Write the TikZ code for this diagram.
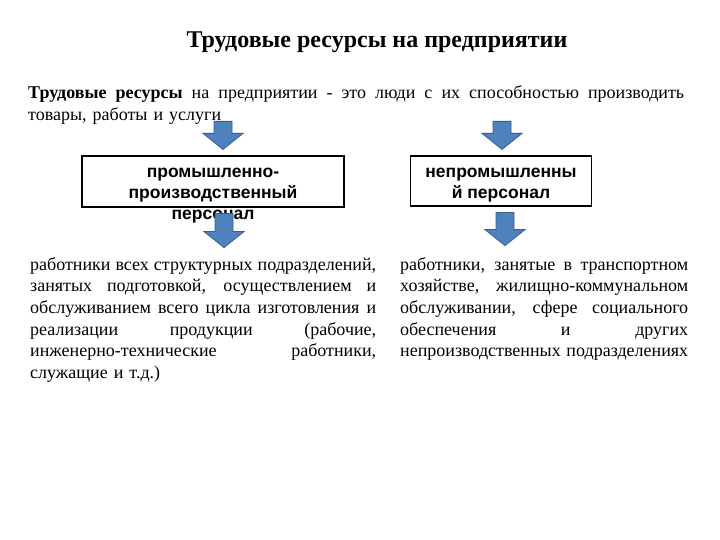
\documentclass[tikz,border=0pt]{standalone}
\usepackage{fontspec}
\setmainfont{Liberation Serif}
\newfontfamily\boxfont{Liberation Sans}
\usetikzlibrary{calc,positioning}
\definecolor{arrowblue}{HTML}{4F81BD}
\definecolor{arrowedge}{HTML}{3A5F8B}
\tikzset{
  boxstyle/.style={draw=black,line width=1.2pt,inner sep=0pt},
  boxtext/.style={font=\boxfont\bfseries\fontsize{17.5}{21}\selectfont,
                  align=center,inner sep=0pt},
  bodytext/.style={font=\fontsize{18}{21.7}\selectfont,text width=#1,
                   inner sep=0pt,align=left},
  blockarrow/.style={fill=arrowblue,draw=arrowedge,line width=.8pt},
  pics/downarrow/.style={code={
    \draw[blockarrow] (-9,0) -- (9,0) -- (9,#1-16) -- (20,#1-16) --
      (0,#1) -- (-20,#1-16) -- (-9,#1-16) -- cycle;}}
}
% one justified line of a paragraph
\newcommand\jline[1]{\leavevmode\hbox to\hsize{\spaceskip=.25em plus 1fil minus .1em\relax #1}}

\begin{document}
\begin{tikzpicture}[x=1pt,y=-1pt]
\fill[white] (0,0) rectangle (720,540);
\useasboundingbox (0,0) rectangle (720,540);

\node[font=\bfseries\fontsize{24}{28}\selectfont,anchor=base] (title)
  at (377,48) {Трудовые ресурсы на предприятии};

\node[bodytext=656pt,anchor=base west] (intro) at (28,99)
  {\jline{\textbf{Трудовые ресурсы} на предприятии - это люди с их способностью производить}\\
   товары, работы и услуги};

% two kinds of staff
\node[boxstyle,minimum width=262pt,minimum height=51pt] (prombox) at (213,181.5) {};
\node[boxstyle,minimum width=181pt,minimum height=50pt] (nonbox) at (501,181) {};
\node[boxtext] (promtext) at (213,196) {промышленно-\\производственный\\персонал};
\node[boxtext] (nontext) at (501,185) {непромышленны\\й персонал};

\node[bodytext=346pt,anchor=base west] (promdesc) at (30,270)
  {\jline{работники всех структурных подразделений,}\\
   \jline{занятых подготовкой, осуществлением и}\\
   \jline{обслуживанием всего цикла изготовления и}\\
   \jline{реализации продукции (рабочие,}\\
   \jline{инженерно-технические работники,}\\
   служащие и т.д.)};
\node[bodytext=288pt,anchor=base west] (nondesc) at (400,270)
  {\jline{работники, занятые в транспортном}\\
   \jline{хозяйстве, жилищно-коммунальном}\\
   \jline{обслуживании, сфере социального}\\
   \jline{обеспечения и других}\\
   \jline{непроизводственных подразделениях}};

% block arrows
\pic at ($(prombox.north)+(10,-34)$) {downarrow=28};
\pic at ($(nonbox.north)+(1,-34)$) {downarrow=28};
\pic at ($(prombox.south)+(11,6)$) {downarrow=34};
\pic at ($(nonbox.south)+(4,6)$) {downarrow=33};
\end{tikzpicture}
\end{document}
